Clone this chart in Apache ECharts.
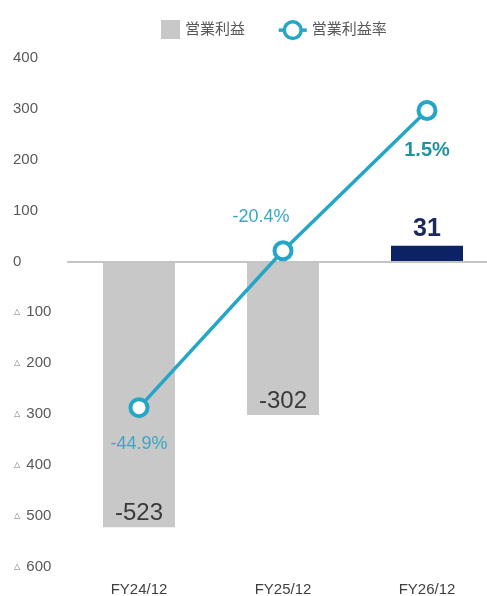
<!DOCTYPE html>
<html>
<head>
<meta charset="utf-8">
<script src="https://cdn.jsdelivr.net/npm/echarts@6/dist/echarts.min.js"></script>
<style>
  html, body { margin: 0; padding: 0; background: #fff; }
  #chart { width: 487px; height: 596px; }
</style>
</head>
<body>
<div id="chart"></div>
<script>
// Fiscal years and figures
const categories = ['FY24/12', 'FY25/12', 'FY26/12'];
const profitValues = [-523, -302, 31];          // 営業利益
const marginValues = [-44.9, -20.4, 1.5];       // 営業利益率 (%)
const profitTicks = { min: -600, max: 400, step: 100 };

// Presentation
const FONT = '"Liberation Sans", Arial, "Noto Sans CJK JP", sans-serif';
const GRAY = '#c8c8c8';
const NAVY = '#0b2265';
const TEAL = '#25a6c6';

const barLabelStyles = [
  { position: 'insideBottom', distance: 2, fontSize: 24, color: '#3a3a3a' },
  { position: 'insideBottom', distance: 2, fontSize: 24, color: '#3a3a3a' },
  { position: 'top', distance: 4, fontSize: 25, fontWeight: 'bold', color: '#1b2a5e' }
];
const barColors = [GRAY, GRAY, NAVY];

const marginLabelStyles = [
  { position: 'bottom', distance: 17, fontSize: 18, color: '#3aa6c4' },
  { position: 'top', distance: 14, offset: [-22, 0], fontSize: 18, color: '#3aa6c4' },
  { position: 'bottom', distance: 19, fontSize: 20, fontWeight: 'bold', color: '#1e939e' }
];

const barData = profitValues.map((v, i) => ({
  value: v,
  itemStyle: { color: barColors[i] },
  label: Object.assign({ show: true, fontFamily: FONT }, barLabelStyles[i])
}));

const lineData = marginValues.map((v, i) => ({
  value: v,
  label: Object.assign({
    show: true,
    fontFamily: FONT,
    formatter: p => p.value.toFixed(1) + '%'
  }, marginLabelStyles[i])
}));

const chart = echarts.init(document.getElementById('chart'), null, { renderer: 'canvas' });

chart.setOption({
  animation: false,
  backgroundColor: '#ffffff',
  textStyle: { fontFamily: FONT },
  legend: [
    {
      data: [{ name: '営業利益', icon: 'rect' }],
      left: 161, top: 20, padding: 0,
      itemWidth: 19, itemHeight: 19,
      textStyle: { fontSize: 15, color: '#595959', fontFamily: FONT }
    },
    {
      data: ['営業利益率'],
      left: 277, top: 20, padding: 0,
      itemWidth: 28, itemHeight: 21,
      textStyle: { fontSize: 15, color: '#595959', fontFamily: FONT },
      lineStyle: { width: 3.5 },
      itemStyle: { borderWidth: 3.5 }
    }
  ],
  grid: {
    left: 67, width: 432, top: 58, bottom: 29.5,
    containLabel: false,
    outerBoundsMode: 'none'
  },
  xAxis: {
    type: 'category',
    data: categories,
    axisLine: { show: false },
    axisTick: { show: false },
    axisLabel: { fontSize: 15, color: '#404040', margin: 16, fontFamily: FONT }
  },
  yAxis: [
    {
      type: 'value',
      min: profitTicks.min, max: profitTicks.max, interval: profitTicks.step,
      splitLine: { show: false },
      axisLine: { show: false },
      axisTick: { show: false },
      axisLabel: {
        align: 'left',
        margin: 54,
        fontSize: 15,
        color: '#595959',
        fontFamily: FONT,
        formatter: v => v < 0 ? '{tri|△} ' + Math.abs(v) : String(v),
        rich: {
          tri: { fontSize: 8, color: '#777', fontFamily: '"DejaVu Sans", sans-serif', padding: [0, 2, 0, 1] }
        }
      }
    },
    {
      type: 'value',
      show: false,
      min: -69.7, max: 9.7,
      splitLine: { show: false }
    }
  ],
  series: [
    {
      name: '営業利益',
      type: 'bar',
      barWidth: 72,
      itemStyle: { color: GRAY },
      data: barData,
      markLine: {
        silent: true,
        symbol: 'none',
        label: { show: false },
        lineStyle: { color: '#c4c4c4', width: 2, type: 'solid' },
        data: [{ yAxis: 0 }]
      }
    },
    {
      name: '営業利益率',
      type: 'line',
      yAxisIndex: 1,
      symbol: 'circle',
      symbolSize: 17,
      z: 5,
      lineStyle: { color: TEAL, width: 3.5 },
      itemStyle: { color: '#ffffff', borderColor: TEAL, borderWidth: 4 },
      data: lineData
    }
  ]
});
</script>
</body>
</html>
